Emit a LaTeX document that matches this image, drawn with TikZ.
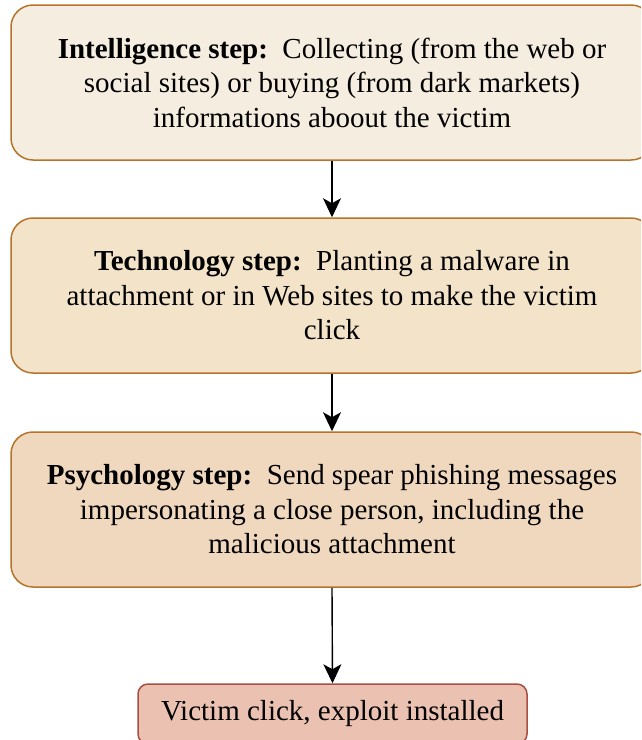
\documentclass[tikz,border=0pt]{standalone}
\usepackage{fontspec}
\setmainfont{Liberation Serif}
\usetikzlibrary{arrows.meta}
\definecolor{introfill}{HTML}{F5EDE0}
\definecolor{techfill}{HTML}{F3E3C9}
\definecolor{psyfill}{HTML}{F0D8BF}
\definecolor{stepline}{HTML}{B5742C}
\definecolor{endfill}{HTML}{EBC1B1}
\definecolor{endline}{HTML}{A84E43}
\tikzset{
  stepbox/.style={draw=stepline, line width=1.5pt, rounded corners=22pt,
    minimum width=642pt, minimum height=155pt, align=center,
    font=\fontsize{29}{34.5}\selectfont, inner sep=0pt},
  endbox/.style={draw=endline, fill=endfill, line width=1.5pt, rounded corners=10pt,
    minimum width=389pt, minimum height=60pt, align=center,
    font=\fontsize{29}{34.5}\selectfont, inner sep=0pt},
  flow/.style={draw=black, line width=1.4pt,
    -{Stealth[length=19pt,width=18pt,inset=5pt]}}
}
\begin{document}
\begin{tikzpicture}[x=1pt,y=-1pt]
\useasboundingbox (0,0) rectangle (641,740);
\clip (0,0) rectangle (641,740);
\fill[white] (0,0) rectangle (641,740);

\node[stepbox, fill=introfill] (intel) at (332,82.5)
  {\textbf{Intelligence step:}\ \ Collecting (from the web or\\
   social sites) or buying (from dark markets)\\
   informations aboout the victim};
\node[stepbox, fill=techfill] (tech) at (332,295.5)
  {\textbf{Technology step:}\ \ Planting a malware in\\
   attachment or in Web sites to make the victim\\
   click};
\node[stepbox, fill=psyfill] (psy) at (332,509.5)
  {\textbf{Psychology step:}\ \ Send spear phishing messages\\
   impersonating a close person, including the\\
   malicious attachment};
\node[endbox] (victim) at (332.5,714) {Victim click, exploit installed};

\draw[flow] (intel.south) -- (tech.north);
\draw[flow] (tech.south) -- (psy.north);
\draw[flow] (psy.south) -- (victim.north);
\end{tikzpicture}
\end{document}
